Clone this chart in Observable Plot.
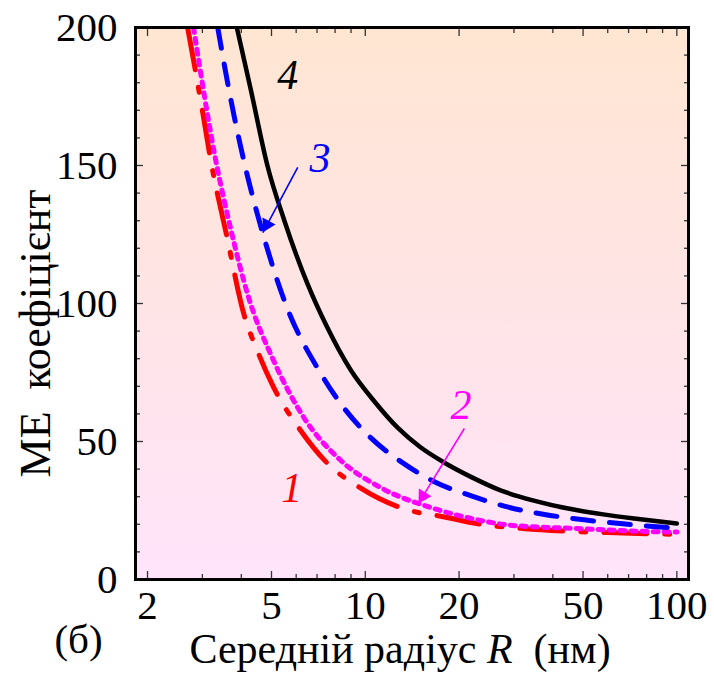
<!DOCTYPE html>
<html><head><meta charset="utf-8">
<script src="https://cdn.jsdelivr.net/npm/d3@7"></script>
<script src="https://cdn.jsdelivr.net/npm/@observablehq/plot@0.6"></script>
<style>body{margin:0;background:#fff;}</style>
</head><body><div id="chart"></div>
<script>
// Curve 1 (red, dash-dot)
const r1 = [2.69, 3.0, 3.19, 3.6, 4.07, 4.5, 5.08, 6.2, 7.5, 9.7, 12.8, 14.9, 17.3, 23.5, 32, 45, 60, 95];
const v1 = [200, 170, 152, 124, 96.4, 83, 69.6, 54, 42.5, 33, 26.3, 24.2, 23, 20, 18.5, 17.5, 17, 16.4];
// Curve 2 (magenta, dotted)
const r2 = [2.81, 3.31, 3.7, 4.2, 5.08, 6.35, 8.35, 11.2, 16.3, 23, 28.5, 47, 80, 100];
const v2 = [200, 152, 127, 103, 79.3, 58.7, 43.1, 33.3, 26, 21.6, 19.8, 18.5, 17.4, 17.2];
// Curve 3 (blue, dashed)
const r3 = [3.36, 3.7, 4.07, 4.7, 5.5, 7.2, 8.7, 10.4, 13.3, 16.6, 21.9, 28.8, 38.4, 52.4, 72.5, 100];
const v3 = [200, 174, 152, 125, 101, 74.6, 61, 51.4, 42, 35.5, 30.3, 26.2, 23.4, 21.4, 19.8, 18.6];
// Curve 4 (black, solid)
const r4 = [3.87, 4.3, 4.85, 5.5, 6.53, 7.5, 9, 10.7, 12.7, 15, 17.9, 22, 27.3, 35, 44.8, 58, 73, 100];
const v4 = [200, 177, 150, 130, 107, 92, 75.7, 64.5, 55, 48, 42.4, 37, 32.2, 28.5, 25.7, 23.6, 22.1, 20.3];

const curveNames = ["1", "2", "3", "4"];
const labelR = [5.81, 20.3, 7.15, 5.64];
const labelV = [33, 63, 152.5, 182.6];

// annotation arrows: [startR, startV, tipR, tipV]
const arrowBlue = [6.07, 149.3, 4.69, 125.7];
const arrowMagenta = [20.8, 54.7, 14.8, 27.5];

const xTicksMajor = [2, 5, 10, 20, 50, 100];
const xTicksMinor = [3, 4, 6, 7, 8, 9, 30, 40, 60, 70, 80, 90];
const yTicksMajor = [0, 50, 100, 150, 200];
const yTicksMinor = [10, 20, 30, 40, 60, 70, 80, 90, 110, 120, 130, 140, 160, 170, 180, 190];

const yTitle = "МЕ  коефіцієнт";
const xTitle = "Середній радіус R  (нм)";
const panelTag = "(б)";

const FONT = "Liberation Serif";
const toRows = (rs, vs) => rs.map((r, i) => ({R: r, V: vs[i]}));
const d1 = toRows(r1, v1), d2 = toRows(r2, v2), d3s = toRows(r3, v3), d4 = toRows(r4, v4);
const colors = ["#ff0000", "#ff00ff", "#0000ff", "#000000"];

function headPos(a, t) {
  const [sR, sV, tR, tV] = a;
  return {R: Math.exp(Math.log(tR) + t * (Math.log(sR) - Math.log(tR))), V: tV + t * (sV - tV)};
}
const arrowRow = a => ({x1: a[0], y1: a[1], x2: a[2], y2: a[3]});

const defs = () => {
  const d = d3.create("svg:defs");
  const g = d.append("linearGradient").attr("id", "bgGrad").attr("x1", 0).attr("y1", 0).attr("x2", 0).attr("y2", 1);
  g.append("stop").attr("offset", "0%").attr("stop-color", "#ffe6d2");
  g.append("stop").attr("offset", "50%").attr("stop-color", "#ffe4e6");
  g.append("stop").attr("offset", "100%").attr("stop-color", "#ffe4fb");
  return d.node();
};

const tk = {stroke: "#333", strokeWidth: 1.3, label: null, tickFormat: () => ""};

const labelMarks = curveNames.map((t, i) =>
  Plot.text([{t, R: labelR[i], V: labelV[i]}], {x: "R", y: "V", text: "t", fill: colors[i], fontStyle: "italic", fontSize: 42}));

const chart = Plot.plot({
  width: 714, height: 684,
  marginLeft: 135, marginRight: 26, marginTop: 27, marginBottom: 105,
  x: {type: "log", domain: [1.83, 109]},
  y: {domain: [0, 200]},
  style: {fontSize: "41px", fontFamily: FONT, background: "#fff", color: "#000"},
  marks: [
    defs,
    Plot.frame({fill: "url(#bgGrad)", stroke: null}),
    Plot.line(d1, {x: "R", y: "V", stroke: colors[0], strokeWidth: 5, strokeDasharray: "43,18,5,18", curve: "monotone-x", clip: true}),
    Plot.line(d2, {x: "R", y: "V", stroke: colors[1], strokeWidth: 5, strokeDasharray: "5,6", curve: "monotone-x", clip: true}),
    Plot.line(d3s, {x: "R", y: "V", stroke: colors[2], strokeWidth: 5, strokeDasharray: "21,16", curve: "monotone-x", clip: true}),
    Plot.line(d4, {x: "R", y: "V", stroke: colors[3], strokeWidth: 4.5, curve: "monotone-x", clip: true}),
    Plot.link([arrowRow(arrowBlue)], {x1: "x1", y1: "y1", x2: "x2", y2: "y2", stroke: colors[2], strokeWidth: 1.6}),
    Plot.link([arrowRow(arrowMagenta)], {x1: "x1", y1: "y1", x2: "x2", y2: "y2", stroke: colors[1], strokeWidth: 1.6}),
    Plot.dot([headPos(arrowBlue, 0.12)], {x: "R", y: "V", symbol: "triangle", r: 5.5, fill: colors[2], stroke: null, rotate: 208}),
    Plot.dot([headPos(arrowMagenta, 0.10)], {x: "R", y: "V", symbol: "triangle", r: 5.5, fill: colors[1], stroke: null, rotate: 211.5}),
    ...labelMarks,
    // inward ticks (no labels)
    Plot.axisX({anchor: "bottom", ticks: xTicksMajor, tickSize: -8, ...tk}),
    Plot.axisX({anchor: "bottom", ticks: xTicksMinor, tickSize: -5, ...tk}),
    Plot.axisX({anchor: "top", ticks: xTicksMajor, tickSize: -8, ...tk}),
    Plot.axisX({anchor: "top", ticks: xTicksMinor, tickSize: -5, ...tk}),
    Plot.axisY({anchor: "left", ticks: yTicksMajor, tickSize: -8, ...tk}),
    Plot.axisY({anchor: "left", ticks: yTicksMinor, tickSize: -5, ...tk}),
    Plot.axisY({anchor: "right", ticks: yTicksMajor, tickSize: -8, ...tk}),
    Plot.axisY({anchor: "right", ticks: yTicksMinor, tickSize: -5, ...tk}),
    // tick labels
    Plot.axisX({anchor: "bottom", ticks: xTicksMajor, tickSize: 0, tickPadding: 10, tickFormat: d => String(d), label: null}),
    Plot.axisY({anchor: "left", ticks: yTicksMajor, tickSize: 0, tickPadding: 18, tickFormat: d => String(d), label: null}),
    Plot.text([yTitle], {frameAnchor: "left", textAnchor: "middle", rotate: -90, dx: -100, dy: 30, fontSize: 44}),
    Plot.text([xTitle], {frameAnchor: "bottom", textAnchor: "middle", dx: -12, dy: 83, fontSize: 42}),
    Plot.text([panelTag], {frameAnchor: "bottom-left", textAnchor: "middle", dx: -57, dy: 73, fontSize: 41}),
    Plot.frame({stroke: "#000", strokeWidth: 3})
  ]
});

document.getElementById("chart").appendChild(chart);

// italic R in the x-axis title
d3.select(chart).selectAll("text").filter(function () { return this.textContent === xTitle; })
  .each(function () {
    const el = d3.select(this);
    el.text("");
    el.append("tspan").text("Середній радіус ");
    el.append("tspan").attr("font-style", "italic").text("R");
    el.append("tspan").text("  (нм)");
  });

// apply the serif font to every text once the chart is in the document, and flush styles
chart.setAttribute("font-family", FONT);
chart.querySelectorAll("g[font-family]").forEach(g => g.setAttribute("font-family", FONT));
chart.querySelectorAll("text").forEach(t => {
  t.setAttribute("font-family", FONT);
  t.style.fontFamily = FONT;
  void getComputedStyle(t).fontFamily;
  try { t.getBBox(); } catch (e) {}
});
void document.body.offsetHeight;
</script>
</body></html>
